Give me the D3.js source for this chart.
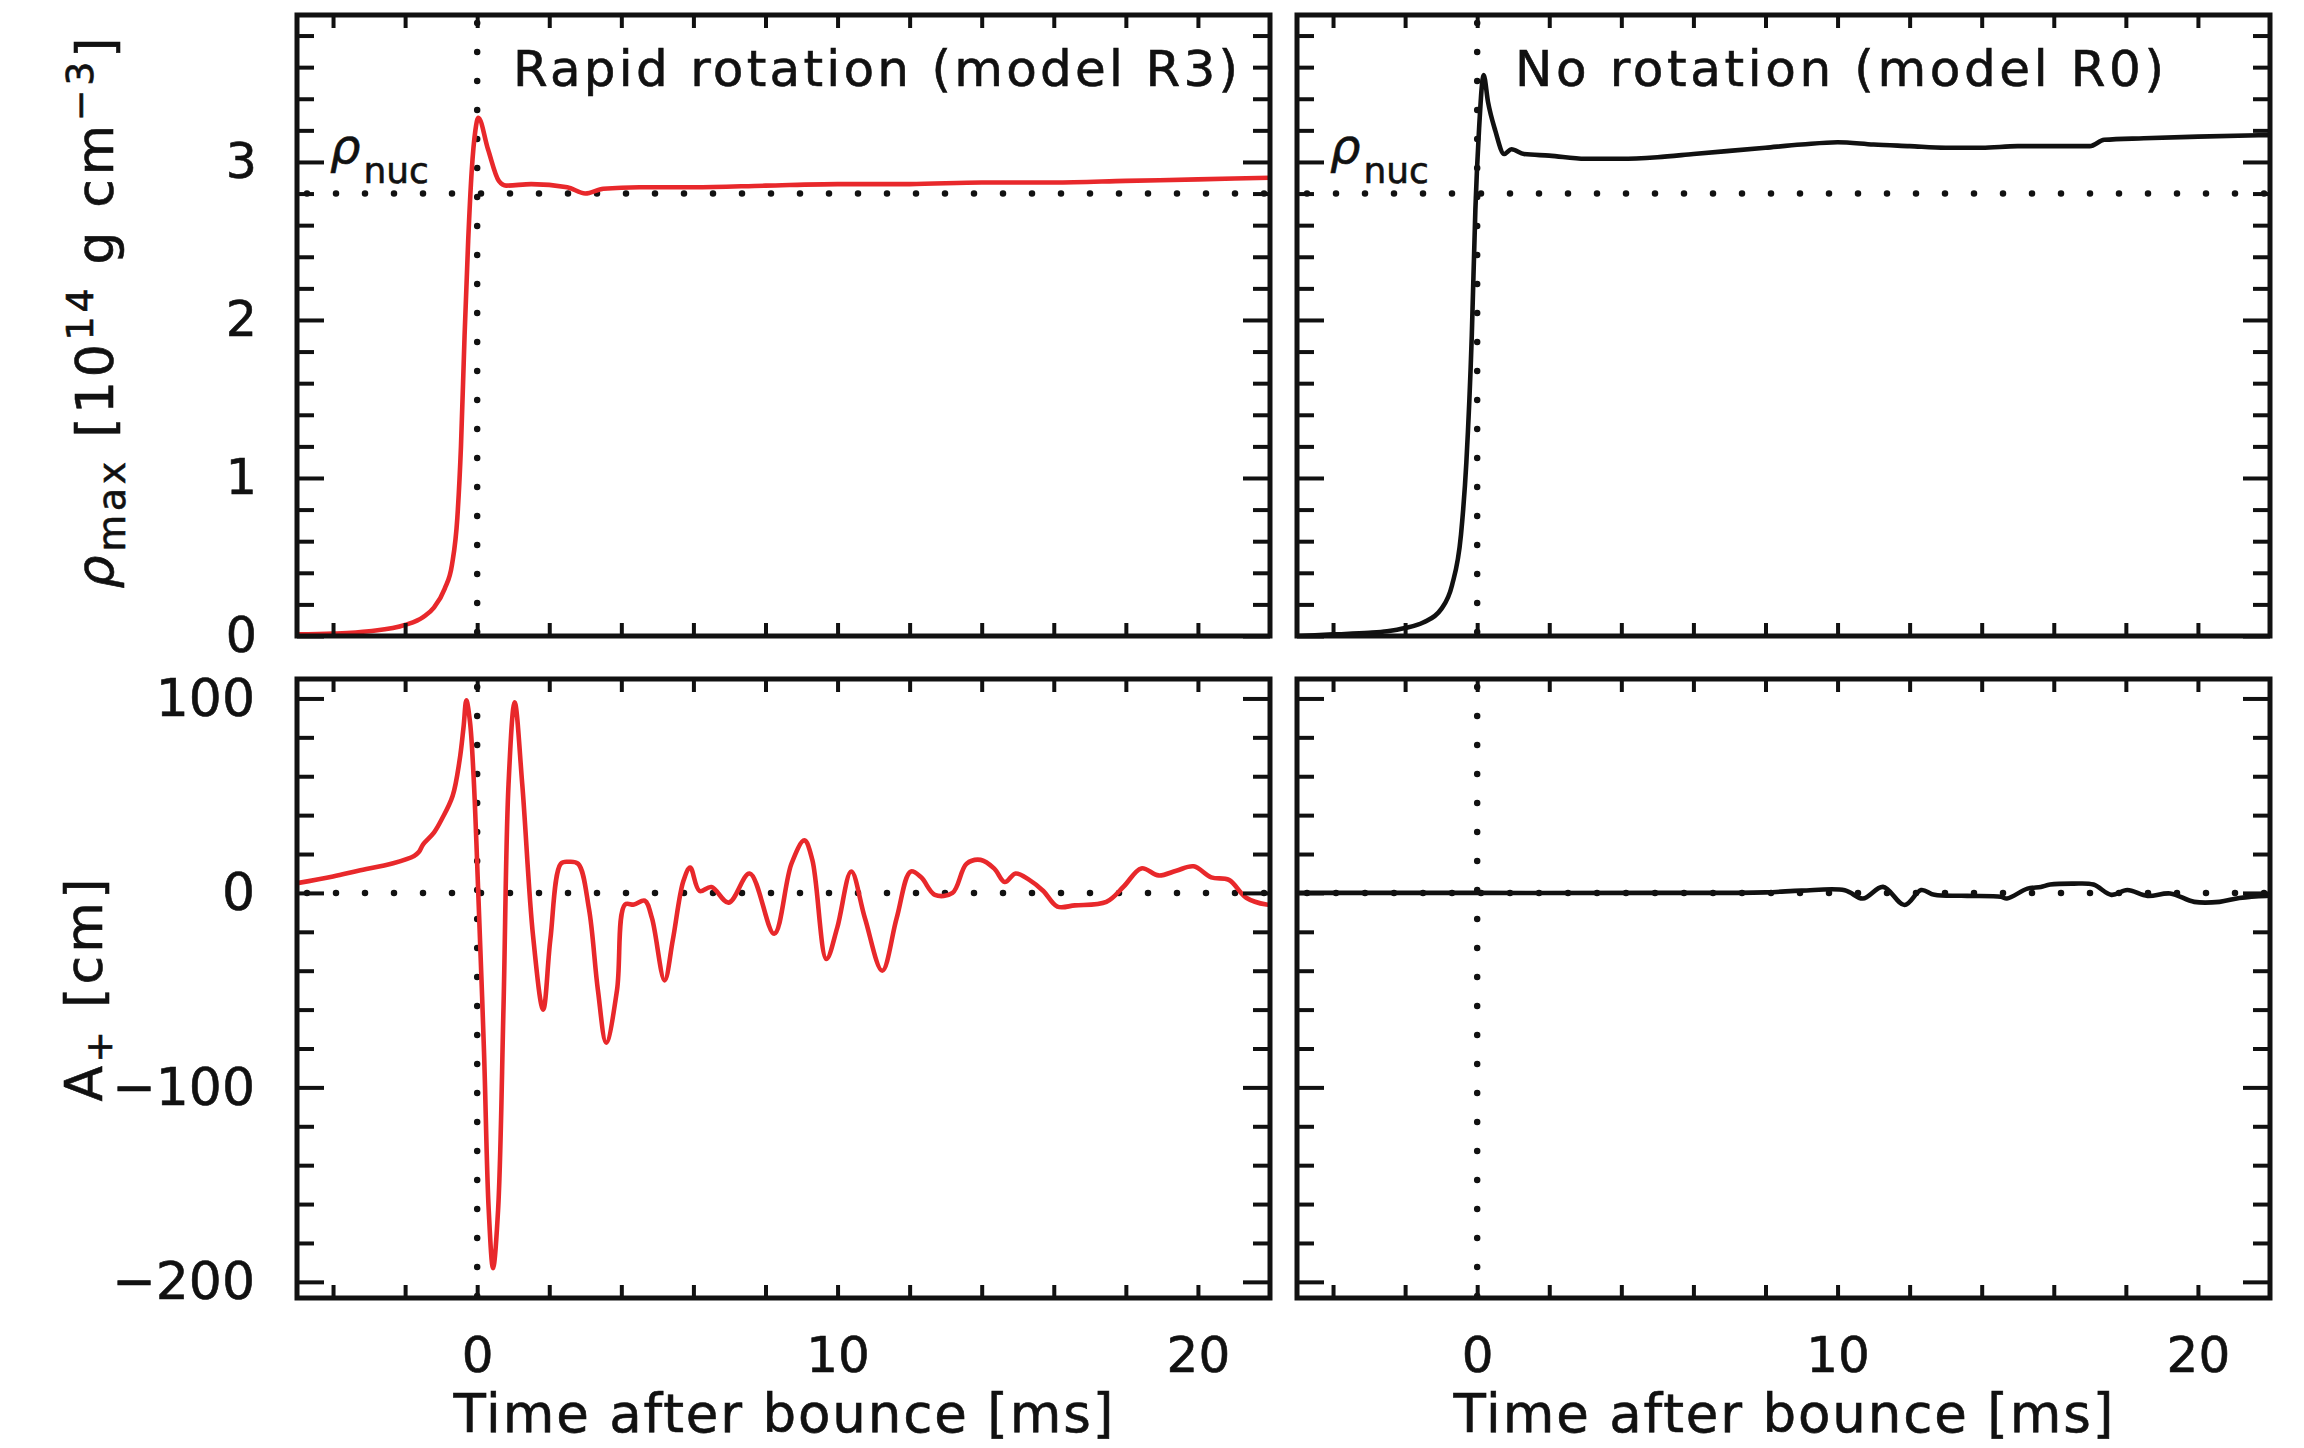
<!DOCTYPE html>
<html>
<head>
<meta charset="utf-8">
<script src="https://cdn.jsdelivr.net/npm/d3@7"></script>
<style>
  body { margin: 0; background: #fff; }
  svg { display: block; font-family: 'DejaVu Sans', sans-serif; }
  svg text { stroke: #111; stroke-width: 0.6px; }
  .tick line { stroke: #111; stroke-width: 4; }
  .domain { display: none; }
</style>
</head>
<body>
<div id="wrapper"></div>
<script>
// time after bounce [ms] vs max density [10^14 g cm^-3], model R3 (rapid rotation)
const rhoTimeR3 = [-5, -4, -3, -2, -1.5, -1.2, -0.9, -0.7, -0.55, -0.45, -0.35, -0.25, -0.15, -0.05, 0.03,
  0.3, 0.6, 0.8, 1.5, 2.5, 3.0, 3.5, 4.5, 6, 8, 10, 12, 14, 16, 18, 20, 22];
const rhoR3 = [0.01, 0.015, 0.03, 0.07, 0.12, 0.18, 0.3, 0.45, 0.75, 1.2, 1.9, 2.5, 2.95, 3.2, 3.28,
  3.08, 2.88, 2.85, 2.86, 2.84, 2.8, 2.83, 2.84, 2.84, 2.85, 2.86, 2.86, 2.87, 2.87, 2.88, 2.89, 2.9];

// model R0 (no rotation)
const rhoTimeR0 = [-5, -4, -3, -2.5, -2, -1.5, -1.0, -0.7, -0.45, -0.3, -0.15, -0.05, 0.05, 0.18,
  0.3, 0.5, 0.75, 0.95, 1.3, 2, 3, 4, 5, 6, 7, 8, 9, 10, 11, 12, 13, 14, 15, 16, 17, 17.4, 18.5, 20, 22];
const rhoR0 = [0.0, 0.01, 0.02, 0.03, 0.05, 0.085, 0.17, 0.32, 0.64, 1.1, 1.9, 2.7, 3.2, 3.55,
  3.38, 3.2, 3.05, 3.08, 3.05, 3.04, 3.02, 3.02, 3.03, 3.05, 3.07, 3.09, 3.11, 3.125, 3.11, 3.1, 3.09,
  3.09, 3.1, 3.1, 3.1, 3.14, 3.15, 3.16, 3.17];

// gravitational wave amplitude A+ [cm]
const ampTimeR3 = [-5, -4, -3.3, -2.33, -1.75, -1.62, -1.5, -1.2, -0.98, -0.68, -0.49, -0.38, -0.3, -0.2,
  -0.1, 0.03, 0.19, 0.32, 0.44, 0.58, 0.73, 0.87, 1.04, 1.25, 1.55, 1.83, 2.03, 2.32, 2.52, 2.8, 3.1,
  3.35, 3.58, 3.88, 4.1, 4.35, 4.65, 4.85, 5.2, 5.43, 5.72, 5.91, 6.17, 6.5, 6.98, 7.56, 8.24, 8.72,
  9.08, 9.3, 9.69, 9.99, 10.38, 10.76, 11.24, 11.64, 12.03, 12.32, 12.7, 13.19, 13.58, 13.97, 14.35,
  14.64, 14.94, 15.32, 15.71, 16.1, 16.59, 17.46, 17.94, 18.43, 18.91, 19.4, 19.88, 20.37, 20.86,
  21.34, 21.9, 22];
const ampR3 = [5, 8.5, 11.4, 15.3, 19, 21, 25, 31, 38, 50, 68, 85, 99, 88,
  60, 0, -82, -163, -193, -163, -59, 56, 98, 56, -22, -60, -24, 15, 16, 15, -8,
  -50, -77, -50, -6, -6, -4, -13, -45, -24, 6, 13, 1, 3, -5, 10, -21, 15,
  27, 17, -34, -18, 11, -13, -40, -13, 11, 8, -1, 0, 15, 17, 12.5,
  5.6, 10, 6.7, 1, -7, -6.4, -4.6, 3.3, 12.6, 9, 11.4, 13.7, 8, 6.7,
  -2.5, -6, -6];

const ampTimeR0 = [-5, 0, 5, 8, 9, 10.2, 10.7, 11.26, 11.86, 12.32, 12.69, 13.6, 14.53, 14.7, 15.27,
  15.64, 15.9, 16.55, 17.1, 17.6, 18.04, 18.6, 19.23, 19.9, 20.6, 21.15, 21.9, 22];
const ampR0 = [0, 0, 0, 0.3, 1.2, 1.4, -2.9, 3.1, -6.2, 1.5, -1, -1.5, -2, -2.9, 2.2,
  3.1, 4.3, 4.8, 4.3, -1, 1.5, -1.5, -0.3, -4.6, -4.6, -2.6, -1.5, -1.5];

const xDomain = [-5, 22];
const rhoDomain = [0, 3.93];
const ampDomain = [-208.3, 110];
const rhoNuc = 2.8;
const xLabelTicks = [0, 10, 20];
const rhoLabelTicks = [0, 1, 2, 3];
const ampLabelTicks = [100, 0, -100, -200];
const panelTitles = ['Rapid rotation (model R3)', 'No rotation (model R0)'];
const seriesColors = ['#e8282b', '#111111'];

function drawChart() {
  const dimensions = {
    width: 2304,
    height: 1448,
    panelWidth: 973,
    columns: [297, 1297],
    rows: [{ top: 15, bottom: 636 }, { top: 679, bottom: 1298 }]
  };

  const wrapper = d3
    .select('#wrapper')
    .append('svg')
    .attr('width', dimensions.width)
    .attr('height', dimensions.height);

  const defs = wrapper.append('defs');

  const rhoSeries = [
    rhoTimeR3.map((t, i) => ({ t, v: rhoR3[i] })),
    rhoTimeR0.map((t, i) => ({ t, v: rhoR0[i] }))
  ];
  const ampSeries = [
    ampTimeR3.map((t, i) => ({ t, v: ampR3[i] })),
    ampTimeR0.map((t, i) => ({ t, v: ampR0[i] }))
  ];

  const panels = [];
  dimensions.columns.forEach((x0, col) => {
    panels.push({ col, row: 0, x0, data: rhoSeries[col], domain: rhoDomain,
      majors: rhoLabelTicks, minors: d3.range(0.2, 3.9, 0.2), curve: d3.curveMonotoneX });
    panels.push({ col, row: 1, x0, data: ampSeries[col], domain: ampDomain,
      majors: ampLabelTicks, minors: d3.range(-200, 101, 20), curve: d3.curveCatmullRom.alpha(0.5) });
  });

  panels.forEach((p, i) => {
    const r = dimensions.rows[p.row];
    const x1 = p.x0 + dimensions.panelWidth;
    const xScale = d3.scaleLinear().domain(xDomain).range([p.x0, x1]);
    const yScale = d3.scaleLinear().domain(p.domain).range([r.bottom, r.top]);

    const g = wrapper.append('g');

    // clip
    defs.append('clipPath')
      .attr('id', `clip${i}`)
      .append('rect')
      .attr('x', p.x0)
      .attr('y', r.top)
      .attr('width', dimensions.panelWidth)
      .attr('height', r.bottom - r.top);

    // dotted reference lines
    const dotted = sel => sel
      .attr('stroke', '#111')
      .attr('stroke-width', 6.5)
      .attr('stroke-linecap', 'round')
      .attr('stroke-dasharray', '0 29')
      .attr('fill', 'none');

    g.append('line')
      .attr('x1', xScale(0)).attr('x2', xScale(0))
      .attr('y1', r.top + 8).attr('y2', r.bottom)
      .call(dotted);

    const hLine = p.row === 0 ? rhoNuc : 0;
    g.append('line')
      .attr('x1', p.x0 + 10).attr('x2', x1)
      .attr('y1', yScale(hLine)).attr('y2', yScale(hLine))
      .call(dotted);

    // data
    const lineGenerator = d3.line()
      .x(d => xScale(d.t))
      .y(d => yScale(d.v))
      .curve(p.curve);

    g.append('path')
      .datum(p.data)
      .attr('clip-path', `url(#clip${i})`)
      .attr('d', lineGenerator)
      .attr('fill', 'none')
      .attr('stroke', seriesColors[p.col])
      .attr('stroke-width', 4.6)
      .attr('stroke-linejoin', 'round');

    // ticks on all four sides, pointing inward
    const xTicks = d3.range(-4, 21, 2);
    g.append('g')
      .attr('transform', `translate(0, ${r.bottom})`)
      .call(d3.axisBottom(xScale).tickValues(xTicks).tickSize(-13).tickFormat(''));
    g.append('g')
      .attr('transform', `translate(0, ${r.top})`)
      .call(d3.axisTop(xScale).tickValues(xTicks).tickSize(-13).tickFormat(''));

    const minors = p.minors.filter(v => !p.majors.some(m => Math.abs(m - v) < 1e-6));
    [[d3.axisLeft, p.x0], [d3.axisRight, x1]].forEach(([axis, pos]) => {
      g.append('g')
        .attr('transform', `translate(${pos}, 0)`)
        .call(axis(yScale).tickValues(p.majors).tickSize(-27).tickFormat(''));
      g.append('g')
        .attr('transform', `translate(${pos}, 0)`)
        .call(axis(yScale).tickValues(minors).tickSize(-17).tickFormat(''));
    });

    // frame
    g.append('rect')
      .attr('x', p.x0)
      .attr('y', r.top)
      .attr('width', dimensions.panelWidth)
      .attr('height', r.bottom - r.top)
      .attr('fill', 'none')
      .attr('stroke', '#111')
      .attr('stroke-width', 5);

    // y tick labels on the left column
    if (p.col === 0) {
      const yLabels = g.append('g')
        .attr('transform', `translate(${p.x0}, 0)`)
        .call(d3.axisLeft(yScale).tickValues(p.majors).tickSize(0)
          .tickPadding(p.row === 0 ? 40 : 42).tickFormat(d3.format('d')));
      yLabels.selectAll('text')
        .attr('font-size', p.row === 0 ? 49 : 52)
        .attr('font-family', "'DejaVu Sans', sans-serif")
        .attr('fill', '#111');
    }

    // x tick labels and title on the bottom row
    if (p.row === 1) {
      const xLabels = g.append('g')
        .attr('transform', `translate(0, ${r.bottom})`)
        .call(d3.axisBottom(xScale).tickValues(xLabelTicks).tickSize(0).tickPadding(38)
          .tickFormat(d3.format('d')));
      xLabels.selectAll('text')
        .attr('font-size', 50)
        .attr('font-family', "'DejaVu Sans', sans-serif")
        .attr('fill', '#111');

      g.append('text')
        .attr('x', (p.x0 + x1) / 2)
        .attr('y', 1432)
        .attr('text-anchor', 'middle')
        .attr('font-size', 53)
        .attr('textLength', 660)
        .attr('lengthAdjust', 'spacing')
        .attr('fill', '#111')
        .text('Time after bounce [ms]');
    }

    // panel title and rho_nuc label on the top row
    if (p.row === 0) {
      const titleBox = p.col === 0 ? { x: 513, len: 725 } : { x: 1515, len: 649 };
      g.append('text')
        .attr('x', titleBox.x)
        .attr('y', 86)
        .attr('font-size', 50)
        .attr('textLength', titleBox.len)
        .attr('lengthAdjust', 'spacing')
        .attr('fill', '#111')
        .text(panelTitles[p.col]);

      const nuc = g.append('text')
        .attr('x', p.x0 + 33)
        .attr('y', yScale(rhoNuc) - 31)
        .attr('font-size', 48)
        .attr('fill', '#111');
      nuc.append('tspan').attr('font-style', 'italic').text('ρ');
      nuc.append('tspan').attr('font-size', 36).attr('dx', 3).attr('dy', 20).text('nuc');
    }
  });

  // y axis titles
  const rhoTitle = wrapper.append('text')
    .attr('transform', 'translate(113, 313) rotate(-90)')
    .attr('text-anchor', 'middle')
    .attr('font-size', 52)
    .attr('textLength', 551)
    .attr('lengthAdjust', 'spacing')
    .attr('fill', '#111');
  rhoTitle.append('tspan').attr('font-style', 'italic').text('ρ');
  rhoTitle.append('tspan').attr('font-size', 38).attr('baseline-shift', '-12').text('max');
  rhoTitle.append('tspan').text(' [10');
  rhoTitle.append('tspan').attr('font-size', 38).attr('baseline-shift', '20').text('14');
  rhoTitle.append('tspan').text(' g cm');
  rhoTitle.append('tspan').attr('font-size', 38).attr('baseline-shift', '20').text('−3');
  rhoTitle.append('tspan').text(']');

  const ampTitle = wrapper.append('text')
    .attr('transform', 'translate(102, 990) rotate(-90)')
    .attr('text-anchor', 'middle')
    .attr('font-size', 52)
    .attr('textLength', 223)
    .attr('lengthAdjust', 'spacing')
    .attr('fill', '#111');
  ampTitle.append('tspan').text('A');
  ampTitle.append('tspan').attr('font-size', 38).attr('baseline-shift', '-10').text('+');
  ampTitle.append('tspan').text(' [cm]');
}
drawChart();
</script>
</body>
</html>
